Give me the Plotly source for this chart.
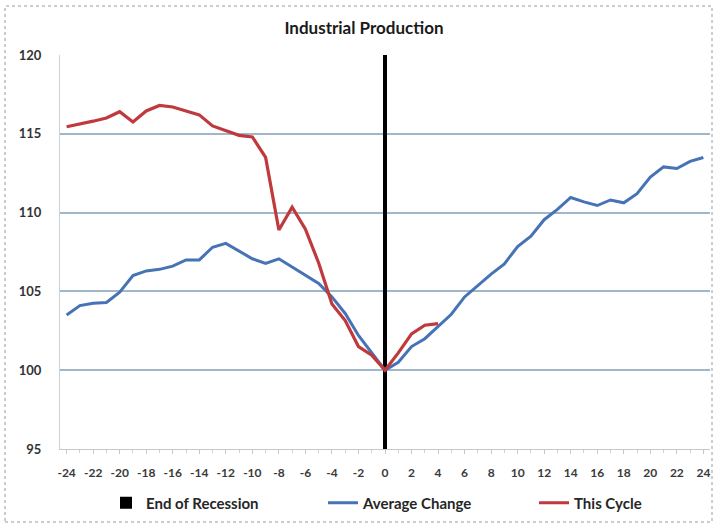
import plotly.graph_objects as go

# Months relative to the end of the recession
months = list(range(-24, 25))
cycle_months = list(range(-24, 5))

# Index level, average of past cycles (recession end = 100)
average_change = [
    103.5, 104.1, 104.25, 104.3, 104.95, 106.0, 106.3, 106.4, 106.6, 107.0,
    107.0, 107.8, 108.05, 107.55, 107.07, 106.78, 107.07, 106.55, 106.0, 105.5,
    104.65, 103.6, 102.2, 101.1, 100.0,
    100.5, 101.5, 102.0, 102.8, 103.55, 104.65, 105.4, 106.1, 106.75, 107.85,
    108.5, 109.55, 110.2, 110.96, 110.68, 110.45, 110.8, 110.62, 111.2, 112.25,
    112.9, 112.8, 113.25, 113.5,
]

# Index level, current cycle
this_cycle = [
    115.45, 115.6, 115.8, 116.0, 116.4, 115.75, 116.45, 116.8, 116.7, 116.45,
    116.2, 115.5, 115.2, 114.9, 114.8, 113.5, 108.9, 110.35, 108.95, 106.8,
    104.2, 103.15, 101.5, 100.95, 100.0,
    101.1, 102.3, 102.85, 102.95,
]

recession_end = [0]
axis_top = 120
y_ticks = [95, 100, 105, 110, 115, 120]
x_ticks = list(range(-24, 25, 2))

W, H = 714, 525
L, R, T, B = 60, 4, 55, 76
pw, ph = W - L - R, H - T - B

def px_x(p):
    return (p - L) / pw

def px_y(p):
    return (H - B - p) / ph

font_family = "Lato, 'Open Sans', sans-serif"
legend_font = dict(size=15, color="#262626")

fig = go.Figure()

fig.add_trace(go.Bar(
    x=recession_end, y=[axis_top], name="<b>End of Recession</b>",
    marker=dict(color="black", line=dict(width=0)), width=0.3,
    legend="legend",
))
fig.add_trace(go.Scatter(
    x=months, y=average_change, mode="lines", name="<b>Average Change</b>",
    line=dict(color="#4673b5", width=3), legend="legend2",
))
fig.add_trace(go.Scatter(
    x=cycle_months, y=this_cycle, mode="lines", name="<b>This Cycle</b>",
    line=dict(color="#c0393d", width=3.2), legend="legend3",
))

# dotted frame around the whole chart
fig.add_shape(
    type="rect", xref="paper", yref="paper",
    x0=px_x(5), x1=px_x(712), y0=px_y(522), y1=px_y(6),
    line=dict(color="#9a9a9a", width=1, dash="dot"), layer="below",
)

def legend_at(left_px):
    return dict(
        orientation="h", x=px_x(left_px), xanchor="left",
        y=px_y(503), yanchor="middle", font=legend_font,
        itemwidth=30, bgcolor="rgba(0,0,0,0)", borderwidth=0,
    )

fig.update_layout(
    width=W, height=H,
    margin=dict(l=L, r=R, t=T, b=B),
    paper_bgcolor="white", plot_bgcolor="white",
    font=dict(family=font_family, color="#333333", size=12),
    title=dict(
        text="<b>Industrial Production</b>", x=364 / W, xref="container",
        xanchor="center", y=1 - 28 / H, yref="container", yanchor="middle",
        font=dict(size=17, color="#1a1a1a"),
    ),
    showlegend=True,
    legend=legend_at(106),
    legend2=legend_at(323),
    legend3=legend_at(534),
    bargap=0,
)

fig.update_xaxes(
    range=[-24.5, 24.5], tickmode="array", tickvals=x_ticks,
    ticktext=["<b>%d</b>" % v for v in x_ticks],
    showgrid=False, zeroline=False,
    showline=True, linecolor="#c8c8c8", linewidth=1,
    ticks="outside", ticklen=4, tickcolor="#c8c8c8", ticklabelstandoff=9,
    tickfont=dict(size=12, color="#3a3a3a"),
    minor=dict(dtick=1, tick0=0, ticks="outside", ticklen=3, tickcolor="#d0d0d0"),
)
fig.update_yaxes(
    range=[95, 120], tickmode="array", tickvals=y_ticks,
    ticktext=["<b>%d</b>" % v for v in y_ticks],
    showgrid=True, gridcolor="#9fb7cb", gridwidth=1.5,
    zeroline=False, showline=True, linecolor="#d0d0d0", linewidth=1,
    ticks="", ticklabelstandoff=15,
    tickfont=dict(size=13, color="#333333"),
)

fig.write_html("out.html")
